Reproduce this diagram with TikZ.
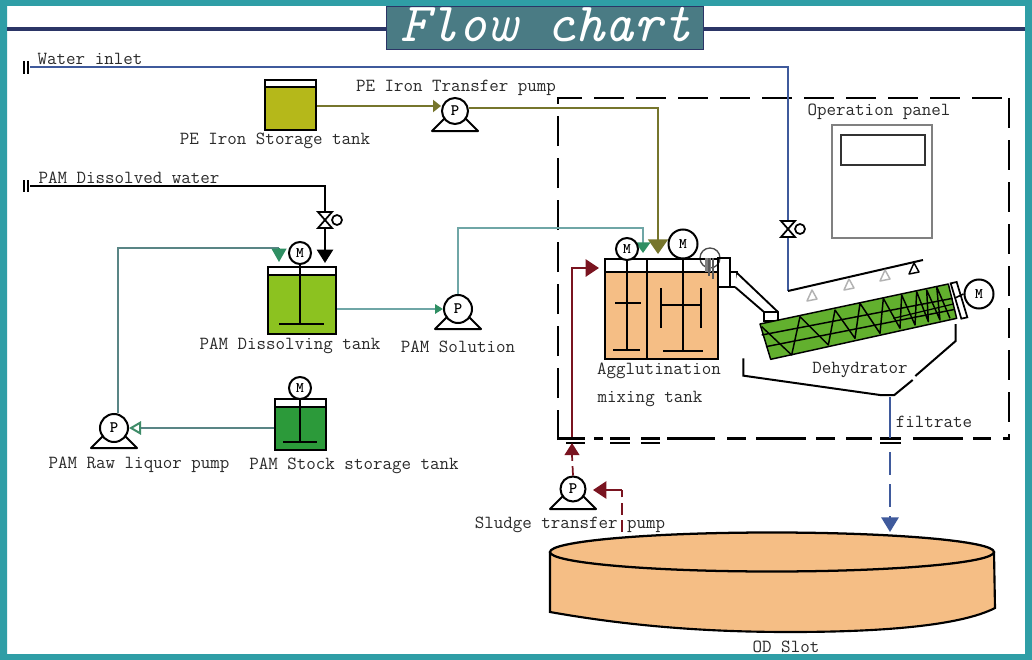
\documentclass[tikz,border=0pt]{standalone}
\usepackage{fontspec}
\usetikzlibrary{arrows.meta,calc}
\definecolor{frameteal}{HTML}{2F9EA6}
\definecolor{titlebg}{HTML}{4A7B84}
\definecolor{navy}{HTML}{2B3566}
\definecolor{waterblue}{HTML}{3F5A9C}
\definecolor{olive}{HTML}{76752C}
\definecolor{sol}{HTML}{6FA6A6}
\definecolor{arrgreen}{HTML}{2F8F63}
\definecolor{sludge}{HTML}{7A1420}
\definecolor{orangefill}{HTML}{F5BE85}
\definecolor{petank}{HTML}{B5B81A}
\definecolor{paml}{HTML}{8CC220}
\definecolor{pamd}{HTML}{2C9A3A}
\definecolor{dehy}{HTML}{62B02E}
\definecolor{txt}{HTML}{2A2A2A}
\tikzset{
  x=0.75pt,y=-0.75pt,
  lbl/.style={font=\ttfamily\fontsize{13.85}{14}\selectfont,text=txt,inner sep=0pt,yshift=-1.2pt},
  tankbox/.style={draw=black,line width=1.7pt,inner sep=0pt,rectangle},
  motor/.style={circle,draw=black,line width=1.5pt,fill=white,inner sep=0pt,font=\ttfamily\bfseries\fontsize{11}{11}\selectfont},
  pumpc/.style={circle,draw=black,line width=1.5pt,fill=white,inner sep=0pt,font=\ttfamily\bfseries\fontsize{12}{12}\selectfont},
  shaft/.style={draw=black,line width=1.3pt},
  pipe/.style={line width=1.5pt},
  solpipe/.style={pipe,draw=sol},
  gtip/.style={-{Triangle[length=10pt,width=11pt,color=arrgreen]}},
  rtip/.style={-{Triangle[length=10pt,width=13pt,color=sludge]}},
}
\newcommand{\pumpat}[4]{% name, x, y, radius
  \draw[black,line width=1.5pt,fill=white,line join=round] (#2-10,#3+7) -- (#2-23,#3+20) -- (#2+23,#3+20) -- (#2+10,#3+7);
  \node[pumpc,minimum size=#4*1.5pt] (#1) at (#2,#3) {P};
}
\newcommand{\valveat}[3]{% name, x, y
  \coordinate (#1) at (#2,#3);
  \draw[black,line width=1.3pt,fill=white] (#2-7,#3-8) -- (#2+7,#3-8) -- (#2-7,#3+8) -- (#2+7,#3+8) -- cycle;
  \draw[black,line width=1.3pt,fill=white] (#2+12,#3) circle[radius=5];
}
\newcommand{\nozzle}[3]{% x, y, colour
  \draw[#3,line width=1.1pt,fill=white,line join=round] (#1,#2-6) -- (#1-5,#2+5) -- (#1+5,#2+3) -- cycle;
}
\begin{document}
\begin{tikzpicture}
\useasboundingbox (0,0) rectangle (1032,660);
% frame
\fill[white] (0,0) rectangle (1032,660);
\fill[frameteal,even odd rule] (0,0) rectangle (1032,660) (7,6) rectangle (1025,654);
% title
\draw[navy,line width=3.2pt] (7,29) -- (387,29) (703,29) -- (1025,29);
\node[draw=navy,line width=1pt,fill=titlebg,minimum width=317*.75pt,minimum height=43*.75pt,inner sep=0pt,anchor=north west] (title) at (386,6) {};
\node[font=\ttfamily\itshape\fontsize{41.5}{42}\selectfont,text=white,inner sep=0pt] (titletext) at (546,25) {Flow chart};

% dashed enclosure
\draw[black,line width=1.6pt,dash pattern=on 22.5pt off 9pt] (558,440) -- (558,98) -- (1009,98);
\draw[black,line width=1.6pt,dash pattern=on 22.5pt off 9pt] (1009,98) -- (1009,440);
\foreach \a/\b in {558/585,594/603,610/630,641/660,667/715,727/746,756/806,816/835,846/872,880/901,913/963,973/991,1003/1009}
  \draw[black,line width=1.6pt] (\a,438.5) -- (\b,438.5);
\foreach \a/\b in {566/585,610/630,641/660,880/901}
  \draw[black,line width=1.2pt] (\a,443) -- (\b,443);

% water inlet
\coordinate (winS) at (30,67);
\coordinate (winC) at (788,67);
\coordinate (sprayC) at (788,291);
\coordinate (sprayE) at (923,260);
\draw[black,line width=1.3pt] (24,61) -- (24,74) (28,61) -- (28,74);
\draw[waterblue,line width=1.5pt] (winS) -- (winC) -- (sprayC);
\draw[black,line width=1.5pt] (sprayC) -- (sprayE);
\valveat{vw}{788}{229}
\nozzle{812}{296}{gray!60}
\nozzle{849}{285}{gray!60}
\nozzle{885}{276}{gray!60}
\nozzle{914}{269}{black}
\node[lbl] (lwin) at (90,57.5) {Water inlet};

% operation panel
\node[draw=gray,line width=1.5pt,minimum width=100*.75pt,minimum height=113*.75pt,inner sep=0pt,anchor=north west] (panel) at (831,124) {};
\node[draw=black!80,line width=1.5pt,minimum width=84*.75pt,minimum height=30*.75pt,inner sep=0pt,anchor=north west] (screen) at (840,134) {};
\node[lbl] (lpanel) at (879,110) {Operation panel};

% PE tank
\fill[petank] (264,87) rectangle (315,129);
\node[tankbox,minimum width=51*.75pt,minimum height=50*.75pt,anchor=north west] (petank) at (264,79) {};
\draw[black,line width=1.3pt] (264,87) -- (315,87);
\node[lbl] (lpet) at (275,139) {PE Iron Storage tank};
\node[lbl] (lpep) at (456,86.5) {PE Iron Transfer pump};
\pumpat{ppe}{455}{111}{13}
\coordinate (olC) at (658,108);
\coordinate (olE) at (658,254);
\draw[pipe,draw=olive,-{Triangle[length=6pt,width=9pt,color=olive]}] (petank.east|-0,106) -- (ppe.west|-0,106);
\draw[pipe,draw=olive,-{Triangle[length=11pt,width=15pt,color=olive]}] (ppe.east|-0,108) -- (olC) -- (olE);

% PAM dissolved water
\draw[black,line width=1.3pt] (24,180) -- (24,192) (28,180) -- (28,192);
\coordinate (pdS) at (30,186);
\coordinate (pdC) at (325,186);
\coordinate (pdE) at (325,263);
\draw[black,line width=1.7pt,-{Triangle[length=10pt,width=12pt]}] (pdS) -- (pdC) -- (pdE);
\valveat{vp}{325}{220}
\node[lbl] (lpd) at (129,176.5) {PAM Dissolved water};

% PAM dissolving tank
\fill[paml] (267,275) rectangle (335,333);
\node[tankbox,minimum width=68*.75pt,minimum height=67*.75pt,anchor=north west] (dtank) at (267,266) {};
\draw[black,line width=1.3pt] (267,275) -- (335,275);
\node[motor,minimum size=22*.75pt] (mdt) at (300,253) {M};
\coordinate (fdt) at (300,324);
\draw[shaft] (mdt) -- (fdt);
\draw[shaft] (279,324) -- (324,324);
\node[lbl] (ldt) at (290,344) {PAM Dissolving tank};

% PAM solution pump
\pumpat{psol}{458}{309}{14}
\node[lbl] (lsol) at (458,345) {PAM Solution};
\draw[solpipe,-{Triangle[length=6pt,width=7pt,color=arrgreen]}] (dtank.east|-psol.west) -- (psol.west);
\coordinate (sA) at (458,228);
\coordinate (sB) at (643,228);
\coordinate (sC) at (643,253);
\draw[solpipe,-{Triangle[length=8pt,width=11pt,color=arrgreen]}] (psol.north) -- (sA) -- (sB) -- (sC);

% PAM stock tank
\fill[pamd] (274,407) rectangle (325,449);
\node[tankbox,minimum width=51*.75pt,minimum height=51*.75pt,anchor=north west] (stank) at (274,398) {};
\draw[black,line width=1.3pt] (274,407) -- (325,407);
\node[motor,minimum size=22*.75pt] (mst) at (300,388) {M};
\coordinate (fst) at (300,442);
\draw[shaft] (mst) -- (fst);
\draw[shaft] (283,442) -- (317,442);
\node[lbl] (lst) at (354,464) {PAM Stock storage tank};

% raw liquor pump
\pumpat{praw}{114}{428}{14}
\node[lbl] (lraw) at (139,463) {PAM Raw liquor pump};
\draw[solpipe,draw=sol!80!black,-{Triangle[open,length=9pt,width=10pt,color=arrgreen!80!gray,fill=white]}] (stank.west|-praw.east) -- (praw.east);
\coordinate (rA) at (118,248);
\coordinate (rB) at (279,248);
\coordinate (rC) at (279,262);
\draw[solpipe,draw=sol!80!black] (praw.north-|rA) -- (rA) -- (rB);
\draw[draw=arrgreen,line width=1.4pt,gtip] (rB) -- (rC);

% agglutination tank
\node[circle,draw=black!70,line width=1pt,fill=white,minimum size=20*.75pt,inner sep=0pt] (mc) at (710,258) {};
\fill[orangefill] (604,272) rectangle (717,358);
\node[tankbox,minimum width=113*.75pt,minimum height=100*.75pt,anchor=north west] (atank) at (604,258) {};
\draw[black,line width=1.5pt] (604,272) -- (717,272);
\draw[black,line width=1.5pt] (647,258) -- (647,358);
\node[motor,minimum size=22*.75pt] (ma) at (627,249) {M};
\node[motor,minimum size=29*.75pt] (mb) at (683,244) {M};
\coordinate (fa) at (627,350);
\coordinate (fb) at (683,351);
\draw[shaft] (ma) -- (fa);
\draw[shaft] (mb) -- (fb);
\draw[shaft] (613,350) -- (640,350) (615,303) -- (641,303);
\draw[shaft] (663,351) -- (703,351) (661,305) -- (701,305) (661,288) -- (661,328) (701,288) -- (701,328);
% top outlet box and hatch
\draw[black,line width=1.4pt] (717,258) -- (730,258) -- (730,287) -- (717,287);
\fill[gray] (705,258) rectangle (711,272);
\draw[gray!70!black,line width=1.2pt] (713,258) -- (713,279) (709,258) -- (709,276);
% chute
\draw[black,line width=1.4pt,fill=white] (730,272) rectangle (737,287);
\draw[black,line width=1.4pt,fill=white] (737,273) -- (778,312) -- (778,321) -- (764,321) -- (764,312) -- (735,287);
\draw[black,line width=1.2pt] (764,312) -- (778,312);
\node[lbl] (la1) at (659,369) {Agglutination};
\node[lbl] (la2) at (650,397) {mixing tank};

% dehydrator
\begin{scope}[shift={(560,210)},x=0.25pt,y=-0.25pt]
\draw[black,line width=1.1pt,fill=dehy,line join=round] (600,342) -- (1165,222) -- (1190,325) -- (632,448) -- cycle;
\draw[black,line width=1.1pt,line join=round] (605,350) -- (695,435) -- (720,320) -- (805,405) -- (825,300) -- (885,385) -- (900,280) -- (960,370) -- (970,265) -- (1020,355) -- (1025,255) -- (1065,345) -- (1070,245) -- (1105,335) -- (1100,240) -- (1140,330) -- (1130,230) -- (1170,325);
\draw[black,line width=1.1pt] (605,375) -- (1178,265) (618,410) -- (1185,298);
\draw[black,line width=.9pt] (1000,325) -- (1180,282);
\draw[black,line width=1.3pt,fill=white] (1172,220) -- (1190,216) -- (1222,322) -- (1204,326) -- cycle;
\coordinate (trayA) at (550,445);
\coordinate (trayB) at (550,497);
\coordinate (trayC) at (960,555);
\coordinate (trayD) at (1003,555);
\coordinate (trayE) at (1058,510);
\coordinate (trayF) at (1066,498);
\coordinate (trayG) at (1187,393);
\coordinate (trayH) at (1187,342);
\draw[black,line width=1.5pt] (trayA) -- (trayB) -- (trayC) -- (trayD) -- (trayE);
\draw[black,line width=1.5pt] (trayF) -- (trayG) -- (trayH);
\end{scope}
\node[motor,minimum size=29*.75pt] (mdh) at (979,294) {M};
\draw[black,line width=1.2pt] (mdh.west) -- (955,298);
\node[lbl] (ldh) at (860,368) {Dehydrator};
\node[lbl] (lfil) at (934,420) {filtrate};

% filtrate line
\coordinate (fS) at (890,397);
\coordinate (fT) at (890,438);
\coordinate (fU) at (890,452);
\coordinate (fV) at (890,532);
\draw[waterblue,line width=1.5pt] (fS) -- (fT);
\draw[waterblue,line width=1.5pt,dash pattern=on 17pt off 7pt,-{Triangle[length=11pt,width=13pt,color=waterblue]}] (fU) -- (fV);

% OD slot
\draw[black,line width=1.6pt,fill=orangefill] (550,552) -- (550,612) .. controls (640,628) and (720,632) .. (790,632) .. controls (880,632) and (960,626) .. (995,608) -- (994,552);
\draw[black,line width=1.7pt,fill=orangefill] (772,552) ellipse[x radius=222,y radius=19.5];
\node[lbl] (lod) at (786,645.5) {OD Slot};

% sludge
\node[lbl] (lsl) at (570,523) {Sludge transfer pump};
\pumpat{pslu}{573}{489}{12.5}
\coordinate (rdA) at (572,437);
\coordinate (rdB) at (572,268);
\coordinate (rdC) at (599,268);
\draw[sludge,line width=1.3pt,rtip] (rdA) -- (rdB) -- (rdC);
\coordinate (rdD) at (572,455);
\draw[sludge,line width=1.3pt,dash pattern=on 7pt off 4pt] (pslu.north) -- (rdD);
\coordinate (rdE) at (572,443);
\draw[sludge,line width=1.3pt,-{Triangle[length=9pt,width=11pt,color=sludge]}] (rdD) -- (rdE);
\coordinate (rdF) at (622,532);
\coordinate (rdG) at (622,490);
\coordinate (rdH) at (593,490);
\draw[sludge,line width=1.3pt,dash pattern=on 9pt off 4pt] (rdF) -- (rdG);
\draw[sludge,line width=1.3pt,rtip] (rdG) -- (rdH);
\end{tikzpicture}
\end{document}
